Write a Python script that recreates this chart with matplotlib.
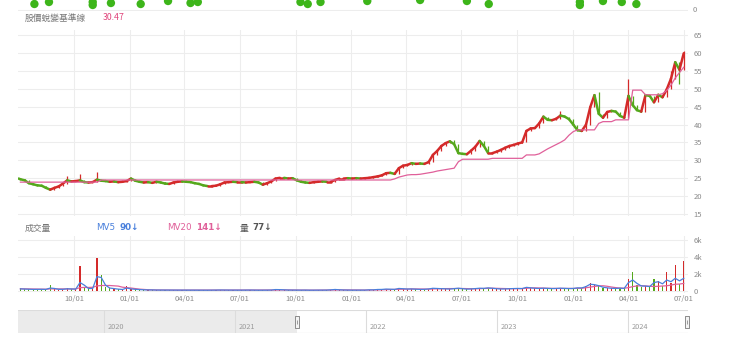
import matplotlib
matplotlib.use("Agg")
import matplotlib.pyplot as plt
import matplotlib.dates as mdates
from matplotlib.collections import LineCollection
from matplotlib.path import Path
import pandas as pd

plt.rcParams['font.family'] = ['Noto Sans CJK TC', 'DejaVu Sans']

# ---------------------------------------------------------------- data
week_start = "2021-07-05"
first_open = 24.9

close = [
    24.7, 24.4, 23.6, 23.3, 23.0, 22.9, 22.3, 21.8, 22.3, 22.7, 23.5, 24.4, 24.1,
    24.2, 24.4, 23.9, 23.8, 23.9, 24.6, 24.3, 24.2, 24.0, 24.1, 23.9, 24.0, 24.2,
    24.9, 24.3, 24.0, 23.8, 23.9, 23.7, 24.0, 23.8, 23.5, 23.4, 23.8, 24.0, 24.1,
    24.0, 23.9, 23.6, 23.4, 23.0, 22.8, 22.8, 22.9, 23.3, 23.8, 23.9, 24.0, 23.9,
    23.9, 23.8, 23.9, 24.0, 23.8, 23.2, 23.6, 24.1, 24.9, 25.1, 25.1, 24.9, 25.0,
    24.4, 24.0, 23.8, 23.7, 23.9, 24.0, 24.1, 24.0, 24.0, 24.5, 24.9, 24.9, 25.0,
    24.9, 25.0, 24.9, 25.0, 25.1, 25.3, 25.5, 25.8, 26.4, 26.5, 26.2, 27.8, 28.5,
    28.7, 29.2, 29.0, 29.1, 29.0, 29.5, 31.5, 32.6, 34.0, 34.8, 35.3, 34.5, 32.0,
    31.8, 31.7, 32.7, 33.8, 35.4, 34.0, 32.0, 32.0, 32.4, 32.9, 33.5, 34.0, 34.3,
    34.7, 35.0, 38.2, 38.9, 39.0, 40.3, 42.2, 41.3, 41.2, 41.6, 42.5, 42.2, 41.5,
    40.0, 38.4, 38.2, 39.9, 44.8, 48.2, 43.0, 41.9, 43.5, 43.8, 43.6, 42.4, 41.9,
    48.0, 45.4, 44.0, 43.6, 48.2, 48.0, 46.2, 48.3, 47.6, 49.8, 52.8, 57.4, 55.3, 59.9,
]

wick_high = {11: 25.6, 14: 26.2, 18: 26.7, 102: 35.7, 127: 43.8,
             136: 49.0, 143: 52.6, 153: 55.0, 156: 60.5}
wick_low = {155: 51.3}

baseline = [
    23.9, 23.9, 23.9, 23.9, 23.9, 23.9, 23.9, 23.9, 23.9, 23.9, 23.9, 23.9, 23.9,
    23.9, 23.9, 23.9, 23.9, 23.9, 23.9, 24.5, 24.5, 24.5, 24.5, 24.5, 24.5, 24.5,
    24.5, 24.5, 24.5, 24.5, 24.5, 24.5, 24.5, 24.5, 24.5, 24.5, 24.5, 24.5, 24.5,
    24.5, 24.5, 24.5, 24.5, 24.5, 24.5, 24.5, 24.5, 24.5, 24.5, 24.5, 24.5, 24.5,
    24.5, 24.5, 24.5, 24.5, 24.5, 24.5, 24.5, 24.5, 24.5, 24.5, 24.5, 24.5, 24.5,
    24.5, 24.5, 24.5, 24.5, 24.5, 24.5, 24.5, 24.5, 24.5, 24.5, 24.5, 24.5, 24.5,
    24.5, 24.5, 24.5, 24.5, 24.5, 24.5, 24.5, 24.5, 24.5, 24.5, 24.8, 25.3, 25.6,
    25.9, 26.0, 26.0, 26.1, 26.3, 26.5, 26.7, 27.0, 27.2, 27.4, 27.6, 27.8, 29.6,
    30.3, 30.3, 30.3, 30.3, 30.3, 30.3, 30.3, 30.55, 30.55, 30.55, 30.55, 30.55, 30.55,
    30.55, 30.55, 31.5, 31.5, 31.5, 31.8, 32.5, 33.2, 33.8, 34.4, 35.0, 35.7, 37.0,
    38.0, 38.5, 38.5, 38.5, 38.5, 38.5, 40.3, 40.8, 40.8, 40.8, 41.3, 41.3, 41.3,
    41.3, 49.6, 49.6, 49.6, 48.3, 48.3, 48.3, 48.3, 48.6, 49.5, 51.0, 53.0, 54.5, 56.0,
]

volume = [
    300, 250, 200, 180, 220, 200, 180, 700, 200, 150, 250, 300, 200,
    220, 2900, 300, 250, 400, 3900, 1900, 500, 300, 250, 200, 150, 600,
    200, 180, 150, 120, 120, 130, 100, 110, 100, 120, 100, 100, 110,
    100, 110, 100, 90, 100, 90, 100, 110, 120, 100, 110, 100, 100,
    100, 120, 110, 100, 90, 100, 100, 120, 200, 150, 120, 100, 110,
    100, 100, 110, 90, 100, 110, 120, 100, 150, 200, 120, 110, 100,
    100, 110, 120, 100, 150, 130, 200, 180, 250, 200, 180, 350, 250,
    220, 250, 200, 180, 200, 250, 350, 300, 280, 250, 220, 300, 350,
    250, 200, 250, 300, 350, 300, 400, 300, 250, 220, 250, 280, 300,
    300, 280, 500, 350, 300, 300, 350, 300, 280, 300, 350, 300, 280,
    300, 400, 350, 600, 950, 700, 600, 400, 350, 300, 300, 350, 300,
    1400, 2200, 700, 500, 600, 500, 1400, 1200, 600, 2300, 900, 3100, 800, 3500,
]

mv5 = [
    250, 230, 210, 190, 200, 200, 190, 350, 300, 200, 200, 260, 240,
    220, 1000, 700, 300, 300, 1700, 1600, 700, 350, 280, 220, 180, 350,
    250, 200, 170, 140, 125, 125, 110, 110, 105, 115, 105, 100, 105,
    100, 105, 100, 95, 95, 95, 95, 105, 115, 105, 105, 100, 100,
    100, 110, 110, 100, 95, 95, 100, 110, 170, 160, 130, 110, 105,
    100, 100, 105, 95, 100, 105, 115, 105, 135, 180, 140, 115, 105,
    100, 105, 115, 105, 135, 135, 180, 185, 230, 210, 190, 300, 260,
    230, 240, 210, 190, 200, 240, 320, 300, 285, 260, 230, 280, 330,
    270, 220, 240, 285, 330, 310, 370, 320, 270, 235, 245, 270, 290,
    300, 285, 430, 380, 320, 300, 330, 310, 290, 300, 330, 310, 290,
    300, 370, 360, 520, 800, 750, 630, 450, 370, 320, 300, 330, 310,
    1000, 1300, 900, 600, 580, 520, 1000, 1100, 850, 1300, 1100, 1500, 1200, 1500,
]

mv20 = [
    260, 255, 245, 235, 225, 215, 210, 250, 250, 245, 240, 245, 245,
    240, 400, 420, 420, 440, 600, 650, 650, 650, 620, 580, 450, 400,
    350, 280, 220, 180, 150, 130, 120, 115, 110, 110, 108, 105, 105,
    103, 102, 100, 98, 97, 96, 96, 98, 100, 102, 104, 103, 102,
    102, 104, 106, 105, 102, 100, 100, 102, 115, 125, 130, 128, 120,
    112, 106, 104, 102, 100, 102, 105, 108, 115, 128, 135, 130, 122,
    112, 106, 108, 108, 115, 120, 135, 150, 170, 185, 195, 220, 235,
    240, 245, 240, 230, 222, 225, 245, 265, 280, 285, 280, 285, 295,
    295, 280, 270, 265, 280, 295, 320, 330, 320, 300, 285, 275, 280,
    285, 290, 330, 360, 370, 360, 340, 320, 305, 300, 305, 310, 305,
    300, 310, 330, 380, 460, 540, 600, 620, 560, 470, 400, 350, 330,
    400, 520, 600, 620, 600, 560, 530, 560, 600, 620, 700, 800, 820, 900,
]

# markers of the indicator panel above (only its lower edge is visible)
signal_dates = ["2021-07-28", "2021-08-21", "2021-11-01", "2021-11-01", "2021-12-01",
                "2022-01-19", "2022-03-05", "2022-04-11", "2022-04-23", "2022-10-09",
                "2022-10-21", "2022-11-11", "2023-01-27", "2023-04-24", "2023-07-10",
                "2023-08-15", "2024-01-12", "2024-01-12", "2024-02-19", "2024-03-21",
                "2024-04-14"]
signal_level = [7, 9, 6, 9, 8, 7, 10, 8, 9, 9, 7, 9, 10, 11, 10, 7, 9, 6, 10, 9, 7]

price_ticks = [15, 20, 25, 30, 35, 40, 45, 50, 55, 60, 65]
volume_ticks = [0, 2000, 4000, 6000]
volume_tick_labels = ["0", "2k", "4k", "6k"]
nav_years = [2020, 2021, 2022, 2023, 2024]
selection = ("2021-06-22", "2024-06-12")

# ---------------------------------------------------------------- style
RED = "#d42a2a"
GREEN = "#55a81c"
PINK = "#e0609a"
BLUE = "#4a80dc"
GRID = "#ededed"
TICK = "#8a8a8a"
W, H = 740, 337
LATIN = ["DejaVu Sans"]


def px_rect(x0, y0, x1, y1):
    return [x0 / W, 1 - y1 / H, (x1 - x0) / W, (y1 - y0) / H]


def fig_text(x, y, s, **kw):
    fig.text(x / W, 1 - y / H, s, va="center", ha="left", **kw)


dates = pd.date_range(week_start, periods=len(close), freq="7D")
xnum = mdates.date2num(dates)
opens = [first_open] + close[:-1]
up = [c >= o for o, c in zip(opens, close)]
colors = [RED if u else GREEN for u in up]
highs = [wick_high.get(i, max(o, c)) for i, (o, c) in enumerate(zip(opens, close))]
lows = [wick_low.get(i, min(o, c)) for i, (o, c) in enumerate(zip(opens, close))]

xlim = (pd.Timestamp("2021-07-01"), pd.Timestamp("2024-07-08"))
quarters = pd.date_range("2021-10-01", "2024-07-01", freq="QS")

fig = plt.figure(figsize=(W / 100, H / 100), dpi=100)

# ---------------------------------------------------------------- top strip
top = fig.add_axes(px_rect(18, 0, 688, 11))
top.set_xlim(*xlim)
top.set_ylim(0, 11)
top.axhline(0.6, color=GRID, lw=0.8)
top.scatter(pd.to_datetime(signal_dates), signal_level, s=36, color="#3db51a",
            edgecolors="none", clip_on=False, zorder=3)
top.axis("off")
fig_text(693, 10.5, "0", fontsize=5.5, color=TICK)

# ---------------------------------------------------------------- price panel
fig_text(25, 18, "股價蛻變基準線", fontsize=6.3, color="#777777")
fig_text(103, 18, "30.47", fontsize=6.3, color="#e0457b")

ax = fig.add_axes(px_rect(18, 30, 688, 216))
ax.set_xlim(*xlim)
ax.set_ylim(15 - 2 / 3.58, 65 + 5 / 3.58)
ax.set_xticks(quarters)
ax.set_yticks(price_ticks)
ax.grid(True, color=GRID, lw=0.8)
ax.set_axisbelow(True)
ax.tick_params(axis="x", length=0, labelbottom=False)
ax.yaxis.tick_right()
ax.tick_params(axis="y", length=0, pad=4, labelsize=5.5, labelcolor=TICK)
for s in ax.spines.values():
    s.set_visible(False)

# dense candles: each period drawn as a stroke from open to close, with wicks
segs = [[(xnum[i - 1], opens[i]), (xnum[i], close[i])] if i else
        [(xnum[0] - 3, opens[0]), (xnum[0], close[0])] for i in range(len(close))]
ax.add_collection(LineCollection(segs, colors=colors, linewidths=1.8,
                                 capstyle="round", zorder=3))
ax.vlines(dates, lows, highs, colors=colors, lw=0.9, zorder=2)
ax.plot(dates, baseline, color=PINK, lw=0.9, zorder=4)

# ---------------------------------------------------------------- volume panel
fig_text(25, 228, "成交量", fontsize=6.3, color="#777777")
fig_text(96, 228, "MV5", fontsize=6.3, color=BLUE, family=LATIN)
fig_text(119, 228, "90↓", fontsize=6.3, color=BLUE, fontweight="bold", family=LATIN)
fig_text(167, 228, "MV20", fontsize=6.3, color=PINK, family=LATIN)
fig_text(196, 228, "141↓", fontsize=6.3, color=PINK, fontweight="bold", family=LATIN)
fig_text(240, 228, "量", fontsize=6.3, color="#555555")
fig_text(252, 228, "77↓", fontsize=6.3, color="#555555", fontweight="bold", family=LATIN)

vax = fig.add_axes(px_rect(18, 236, 688, 293))
vax.set_xlim(*xlim)
ppk = 50.7 / 6
vax.set_ylim(-2 / ppk * 1000, 6000 + 4.3 / ppk * 1000)
vax.set_yticks(volume_ticks)
vax.set_yticklabels(volume_tick_labels)
vax.set_xticks(quarters)
vax.xaxis.set_major_formatter(mdates.DateFormatter("%m/%d"))
vax.grid(True, color=GRID, lw=0.8)
vax.set_axisbelow(True)
vax.yaxis.tick_right()
vax.tick_params(axis="y", length=0, pad=4, labelsize=5.5, labelcolor=TICK)
vax.tick_params(axis="x", length=0, pad=1.5, labelsize=5.5, labelcolor=TICK)
for s in vax.spines.values():
    s.set_visible(False)
vax.bar(dates, volume, width=1.8, color=colors, lw=0, zorder=2)
vax.plot(dates, mv20, color=PINK, lw=0.9, zorder=3)
vax.plot(dates, mv5, color=BLUE, lw=0.9, zorder=4)

# ---------------------------------------------------------------- navigator
nav = fig.add_axes(px_rect(18, 310, 688, 333))
nav_lim = (pd.Timestamp("2019-05-06"), pd.Timestamp("2024-06-16"))
nav.set_xlim(*nav_lim)
nav.set_ylim(0, 1)
sel0, sel1 = pd.Timestamp(selection[0]), pd.Timestamp(selection[1])
nav.axvspan(nav_lim[0], sel0, color="#ebebeb", lw=0, zorder=0)
for yr in nav_years:
    d = pd.Timestamp(f"{yr}-01-01")
    nav.axvline(d, color="#dcdcdc", lw=0.8, zorder=1)
    nav.text(d + pd.Timedelta(days=9), 0.25, str(yr), fontsize=5.3, color="#9a9a9a",
             va="center", ha="left")
nav.axhline(1.0, color="#dcdcdc", lw=0.8)
nav.plot([sel0, sel1], [0.02, 0.02], color="#c4c4c4", lw=0.8)
handle = Path([(-0.42, -1), (0.42, -1), (0.42, 1), (-0.42, 1), (-0.42, -1)],
              [Path.MOVETO, Path.LINETO, Path.LINETO, Path.LINETO, Path.CLOSEPOLY])
for d in (sel0, sel1):
    nav.plot([d], [0.5], marker=handle, markersize=8.5, markerfacecolor="#f4f4f4",
             markeredgecolor="#8c8c8c", markeredgewidth=0.7, clip_on=False, zorder=5)
    nav.plot([d], [0.5], marker="|", markersize=3, color="#8c8c8c", mew=0.6,
             clip_on=False, zorder=6)
nav.axis("off")

fig.savefig("out.png", dpi=100)
